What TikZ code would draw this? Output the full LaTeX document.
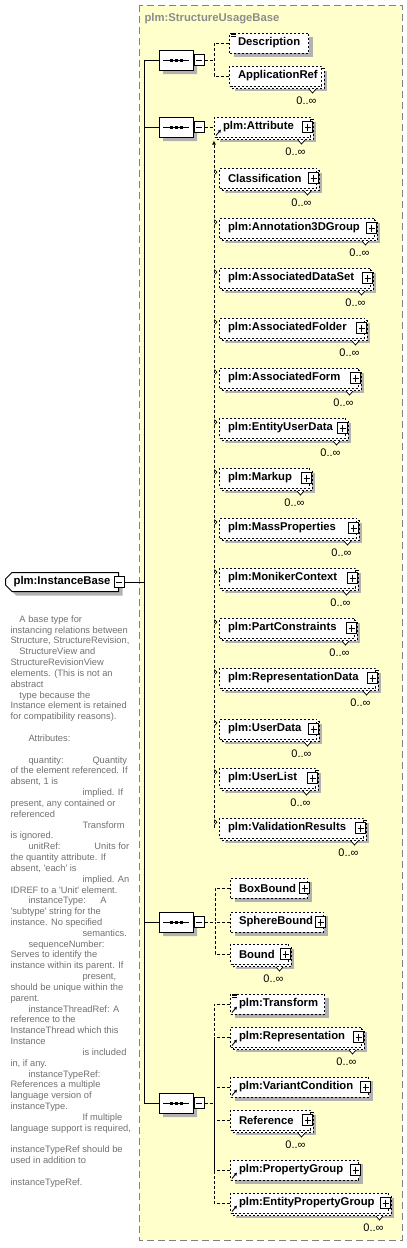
\documentclass[tikz,border=0pt]{standalone}
\usepackage{fontspec}
\setmainfont{Liberation Sans}
\usetikzlibrary{arrows.meta,shapes.misc,shadows,positioning}
\definecolor{xsdyellow}{RGB}{255,255,204}
\definecolor{xsdshadow}{RGB}{178,178,178}
\definecolor{xsdborder}{RGB}{128,128,128}
\definecolor{xsdtitle}{RGB}{140,140,140}
\definecolor{xsddoc}{RGB}{112,112,112}
\newcommand{\elemfont}{\bfseries\fontsize{11.3}{13}\selectfont}
\newcommand{\occfont}{\fontsize{11}{13}\selectfont}
\newcommand{\docfont}{\fontsize{9.3}{10.83}\selectfont}

\begin{document}
\begin{tikzpicture}[x=1pt, y=-1pt, line width=1pt,
    % box degli elementi
    elem/.style={rectangle, draw=black, dash pattern=on 2pt off 2pt, fill=white, font=\elemfont, anchor=west, inner xsep=8.5pt, inner ysep=0pt, minimum height=20pt, align=left},
    one/.style={drop shadow={shadow xshift=4pt, shadow yshift=-4pt, fill=xsdshadow, opacity=1}},
    many/.style={drop shadow={shadow xshift=5.5pt, shadow yshift=-5pt, fill=xsdshadow, opacity=1},
        copy shadow={shadow xshift=2.5pt, shadow yshift=-2.5pt, draw=black, fill=white, dash pattern=on 2pt off 2pt},
        label={[occ]south east:0..∞}},
    occ/.style={anchor=north east, inner sep=0pt, xshift=-5pt, yshift=-9.5pt, font=\occfont, text=black},
    seq/.style={chamfered rectangle, chamfered rectangle xsep=6pt, draw=black, fill=white, minimum width=34pt, minimum height=20pt, inner sep=0pt, drop shadow={shadow xshift=4pt, shadow yshift=-4pt, fill=xsdshadow, opacity=1}},
    root/.style={chamfered rectangle, chamfered rectangle corners={north west,south west}, chamfered rectangle xsep=3pt, draw=black, fill=white, font=\elemfont, anchor=west, minimum width=113pt, minimum height=19pt, inner sep=0pt, drop shadow={shadow xshift=4pt, shadow yshift=-4pt, fill=xsdshadow, opacity=1}},
    minusbox/.style={rectangle, draw=black, fill=white, solid, minimum width=10pt, minimum height=11pt, inner sep=0pt,
        path picture={\draw[black] ([xshift=2pt]path picture bounding box.west) -- ([xshift=-2pt]path picture bounding box.east);}},
    plusbox/.style={rectangle, draw=black, fill=white, solid, minimum width=10pt, minimum height=11pt, inner sep=0pt,
        path picture={\draw[black] ([xshift=2pt]path picture bounding box.west) -- ([xshift=-2pt]path picture bounding box.east)
            ([yshift=-2pt]path picture bounding box.north) -- ([yshift=2pt]path picture bounding box.south);}},
    link/.style={dash pattern=on 3pt off 2pt},
    notch/.style={fill=white, draw=black, solid, line width=0.7pt},
    refarrow/.style={-{Latex[length=3pt,width=3.5pt]}, line width=0.9pt, solid},
    region/.style={draw=xsdborder, fill=xsdyellow, dash pattern=on 7pt off 4pt},
    regtitle/.style={anchor=west, font=\elemfont, text=xsdtitle, inner sep=0pt},
    doctext/.style={anchor=north west, inner sep=0pt, align=left, font=\docfont, text=xsddoc}
]
\useasboundingbox (0,0) rectangle (407,1248);

% Area del tipo base
\draw[region] (139,5) rectangle (402,1240);
\node[regtitle] (regtitle) at (144,19) {plm:StructureUsageBase};

% Elemento radice
\node[root] (ib) at (5,582) {plm:InstanceBase};
\node[minusbox] (ibm) at (ib.east) {};
\coordinate (trunk) at (144,582);

% Documentazione
\node[doctext] (ibdoc) at (10,615) {%
\hspace*{9pt}A base type for\\
instancing relations between\\
Structure, StructureRevision,\\
\hspace*{9pt}StructureView and\\
StructureRevisionView\\
elements. (This is not an\\
abstract\\
\hspace*{9pt}type because the\\
Instance element is retained\\
for compatibility reasons).\\
\mbox{}\\
\hspace*{18pt}Attributes:\\
\mbox{}\\
\hspace*{18pt}\makebox[64pt][l]{quantity:}Quantity\\
of the element referenced. If\\
absent, 1 is\\
\hspace*{72pt}implied. If\\
present, any contained or\\
referenced\\
\hspace*{72pt}Transform\\
is ignored.\\
\hspace*{18pt}\makebox[66pt][l]{unitRef:}Units for\\
the quantity attribute. If\\
absent, \textquotesingle each\textquotesingle{} is\\
\hspace*{72pt}implied. An\\
IDREF to a \textquotesingle Unit\textquotesingle{} element.\\
\hspace*{18pt}\makebox[72pt][l]{instanceType:}A\\
\textquotesingle subtype\textquotesingle{} string for the\\
instance. No specified\\
\hspace*{72pt}semantics.\\
\hspace*{18pt}sequenceNumber:\\
Serves to identify the\\
instance within its parent. If\\
\hspace*{72pt}present,\\
should be unique within the\\
parent.\\
\hspace*{18pt}instanceThreadRef: A\\
reference to the\\
InstanceThread which this\\
Instance\\
\hspace*{72pt}is included\\
in, if any.\\
\hspace*{18pt}instanceTypeRef:\\
References a multiple\\
language version of\\
instanceType.\\
\hspace*{72pt}If multiple\\
language support is required,\\
\mbox{}\\
instanceTypeRef should be\\
used in addition to\\
\mbox{}\\
instanceTypeRef.};

% Sequenze
\node[seq] (seq1) at (176,60) {};
\node[seq] (seq2) at (176,127) {};
\node[seq] (seq3) at (176,922) {};
\node[seq] (seq4) at (176,1103) {};
\node[minusbox, right=0pt of seq1] (seq1m) {};
\node[minusbox, right=0pt of seq2] (seq2m) {};
\node[minusbox, right=0pt of seq3] (seq3m) {};
\node[minusbox, right=0pt of seq4] (seq4m) {};
\foreach \s in {seq1,seq2,seq3,seq4} {
    \draw ([xshift=-13pt]\s.center) -- ([xshift=13pt]\s.center);
    \foreach \d in {-6.5,-1.5,3.5}
        \fill ([shift={(\d pt,1.5pt)}]\s.center) rectangle ++(3,3);
}

% Tronco
\draw (ibm) -- (trunk);
\draw (seq1.west) -| (trunk);
\draw (seq4.west) -| (trunk);
\draw (seq2.west) -- (seq2.west -| trunk);
\draw (seq3.west) -- (seq3.west -| trunk);

% Gruppo 1
\node[elem, one, text width=62pt] (desc) at (229,43) {Description};
\node[elem, many, text width=75pt] (appref) at (229,76) {ApplicationRef};
\coordinate (br1) at (214,60);
\draw[link] (seq1m) -- (br1);
\draw[link] (desc.west) -| (br1);
\draw[link] (appref.west) -| (br1);

% Gruppo 2
\node[elem, many, text width=79pt] (attr) at (214,127) {plm:Attribute};
\node[elem, many, text width=80pt] (cls) at (219,178) {Classification};
\node[elem, many, text width=138pt] (a3d) at (219,228) {plm:Annotation3DGroup};
\node[elem, many, text width=134pt] (ads) at (219,278) {plm:AssociatedDataSet};
\node[elem, many, text width=128pt] (afo) at (219,328) {plm:AssociatedFolder};
\node[elem, many, text width=122pt] (afm) at (219,378) {plm:AssociatedForm};
\node[elem, many, text width=109pt] (eud) at (219,428) {plm:EntityUserData};
\node[elem, many, text width=73pt] (mku) at (219,478) {plm:Markup};
\node[elem, many, text width=120pt] (mpr) at (219,528) {plm:MassProperties};
\node[elem, many, text width=119pt] (mon) at (219,578) {plm:MonikerContext};
\node[elem, many, text width=118pt] (pcs) at (219,628) {plm:PartConstraints};
\node[elem, many, text width=139pt] (rpd) at (219,678) {plm:RepresentationData};
\node[elem, many, text width=80pt] (usd) at (219,729) {plm:UserData};
\node[elem, many, text width=79pt] (usl) at (219,778) {plm:UserList};
\node[elem, many, text width=127pt] (val) at (219,828) {plm:ValidationResults};
\coordinate (sub) at (attr.west |- val.west);
\draw[link] (seq2m) -- (attr.west);
\draw[link, -{Latex[length=4pt,width=4pt]}] (sub) -- ([yshift=-3pt]attr.south west);
\foreach \n in {cls,a3d,ads,afo,afm,eud,mku,mpr,mon,pcs,rpd,usd,usl,val}
    \draw[solid, line width=0.7pt] ([shift={(-4.5pt,-2pt)}]\n.north west) -- ++(2.5,2.5) -- ++(-2.5,2.5);

% Gruppo 3
\node[elem, one, text width=60pt] (boxb) at (230,888) {BoxBound};
\node[elem, one, text width=76pt] (sphb) at (230,922) {SphereBound};
\node[elem, many, text width=41pt] (bnd) at (230,954) {Bound};
\coordinate (br3) at (215,922);
\draw[link] (seq3m) -- (br3);
\draw[link] (boxb.west) -| (br3);
\draw[link] (sphb.west) -| (br3);
\draw[link] (bnd.west) -| (br3);

% Gruppo 4
\node[elem, one, text width=77pt] (trf) at (230,1004) {plm:Transform};
\node[elem, many, text width=114pt] (rep) at (230,1037) {plm:Representation};
\node[elem, one, text width=121pt] (vcd) at (230,1087) {plm:VariantCondition};
\node[elem, many, text width=63pt] (ref) at (230,1120) {Reference};
\node[elem, one, text width=111pt] (pgr) at (230,1170) {plm:PropertyGroup};
\node[elem, many, text width=141pt] (epg) at (230,1203) {plm:EntityPropertyGroup};
\coordinate (br4) at (214,1103);
\draw[link] (seq4m) -- (br4);
\foreach \n in {trf,rep,vcd,ref,pgr,epg}
    \draw[link] (\n.west) -| (br4);

% Simboli
\foreach \n in {attr,cls,a3d,ads,afo,afm,eud,mku,mpr,mon,pcs,rpd,usd,usl,val,boxb,sphb,bnd,rep,vcd,ref,pgr,epg}
    \node[plusbox, anchor=east] (\n-plus) at ([xshift=2pt]\n.east) {};
\foreach \n in {appref,attr,cls,a3d,ads,afo,afm,eud,mku,mpr,mon,pcs,rpd,usd,usl,val,bnd,rep,ref,epg}
    \filldraw[notch] ([shift={(-13pt,-2.5pt)}]\n.south east) -- ++(3.5,4) -- ++(3.5,-4);
\foreach \n in {attr,trf,rep,vcd,pgr,epg}
    \draw[refarrow] ([shift={(2pt,2pt)}]\n.south west) -- ++(5,-6);
\foreach \n in {desc,trf}
    \foreach \k in {0.5,2,3.5}
        \draw[solid, line width=0.6pt] ([shift={(2pt,-\k pt)}]\n.north west) -- ++(5,0);

\end{tikzpicture}
\end{document}
